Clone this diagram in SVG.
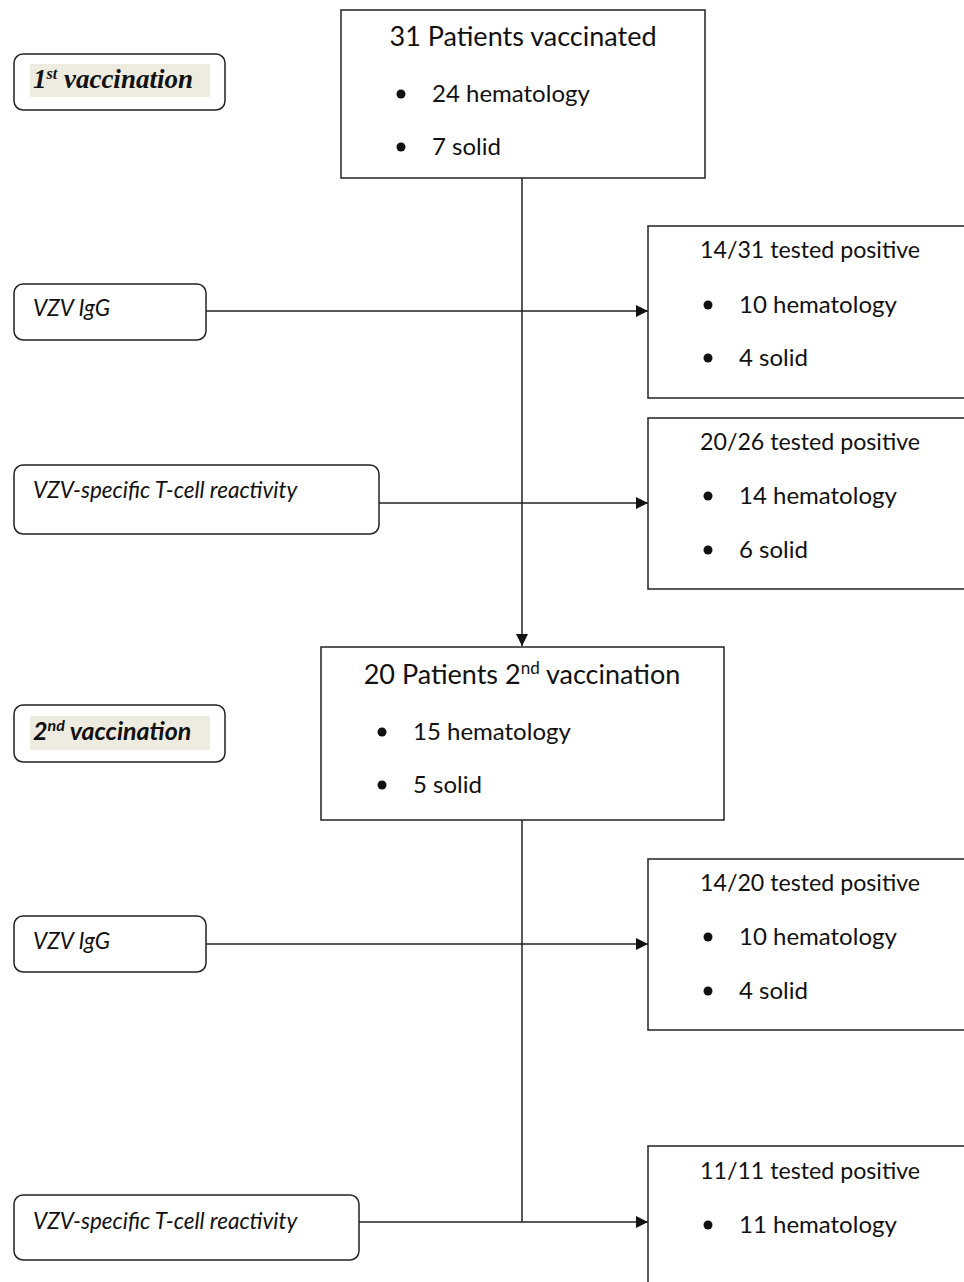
<svg xmlns="http://www.w3.org/2000/svg" width="964" height="1282" viewBox="0 0 964 1282">
<style>
.box{fill:#fff;stroke:#222;stroke-width:1.5}
.rbox{fill:#fff;stroke:#222;stroke-width:1.5}
.hl{fill:#eeece1;stroke:none}
.t{font-family:Lato,"Open Sans",sans-serif;fill:#111}
.title{font-size:27px}
.body{font-size:24px}
.rt{font-size:23.2px}
.it{font-family:Lato,"Open Sans",sans-serif;font-style:italic;font-size:22.5px;fill:#111}
.hd1{font-family:"Liberation Serif",serif;font-style:italic;font-weight:bold;font-size:27px;fill:#111}
.hd2{font-family:Lato,"Open Sans",sans-serif;font-style:italic;font-weight:bold;font-size:25px;fill:#111}
.conn{stroke:#222;stroke-width:1.5;fill:none}
</style>
<defs>
<marker id="arr" viewBox="0 0 10 10" refX="10" refY="5" markerWidth="13" markerHeight="12" markerUnits="userSpaceOnUse" orient="auto">
<path d="M0,0 L10,5 L0,10 z" fill="#111"/>
</marker>
</defs>
<rect width="964" height="1282" fill="#fff"/>
<g id="connectors">
<line class="conn" x1="522" y1="178" x2="522" y2="646" marker-end="url(#arr)"/>
<line class="conn" x1="206" y1="311" x2="648" y2="311" marker-end="url(#arr)"/>
<line class="conn" x1="379" y1="503" x2="648" y2="503" marker-end="url(#arr)"/>
<line class="conn" x1="522" y1="820" x2="522" y2="1222"/>
<line class="conn" x1="206" y1="944" x2="648" y2="944" marker-end="url(#arr)"/>
<line class="conn" x1="359" y1="1222" x2="648" y2="1222" marker-end="url(#arr)"/>
</g>
<g id="first-vacc-label">
<rect class="rbox" x="14" y="54" width="211" height="56" rx="9"/>
<rect class="hl" x="30" y="64" width="180" height="33"/>
<text class="hd1" x="33" y="88">1<tspan font-size="16" dy="-9">st</tspan><tspan dy="9"> vaccination</tspan></text>
</g>
<g id="patients31">
<rect class="box" x="341" y="10" width="364" height="168"/>
<text class="t title" x="523" y="46" text-anchor="middle">31 Patients vaccinated</text>
<circle cx="401" cy="94" r="4.5" fill="#111"/>
<text class="t body" x="432" y="102">24 hematology</text>
<circle cx="401" cy="147" r="4.5" fill="#111"/>
<text class="t body" x="432" y="155">7 solid</text>
</g>
<g id="igg1">
<rect class="rbox" x="14" y="284" width="192" height="56" rx="9"/>
<text class="it" x="33" y="316">VZV IgG</text>
</g>
<g id="res1">
<rect class="box" x="648" y="226" width="330" height="172"/>
<text class="t rt" x="700" y="258">14/31 tested positive</text>
<circle cx="708" cy="305" r="4.5" fill="#111"/>
<text class="t body" x="739" y="313">10 hematology</text>
<circle cx="708" cy="358" r="4.5" fill="#111"/>
<text class="t body" x="739" y="366">4 solid</text>
</g>
<g id="tcell1">
<rect class="rbox" x="14" y="465" width="365" height="69" rx="9"/>
<text class="it" x="33" y="498">VZV-specific T-cell reactivity</text>
</g>
<g id="res2">
<rect class="box" x="648" y="418" width="330" height="171"/>
<text class="t rt" x="700" y="450">20/26 tested positive</text>
<circle cx="708" cy="496" r="4.5" fill="#111"/>
<text class="t body" x="739" y="504">14 hematology</text>
<circle cx="708" cy="550" r="4.5" fill="#111"/>
<text class="t body" x="739" y="558">6 solid</text>
</g>
<g id="patients20">
<rect class="box" x="321" y="647" width="403" height="173"/>
<text class="t title" x="522" y="684" text-anchor="middle">20 Patients 2<tspan font-size="17" dy="-10">nd</tspan><tspan dy="10"> vaccination</tspan></text>
<circle cx="382" cy="732" r="4.5" fill="#111"/>
<text class="t body" x="413" y="740">15 hematology</text>
<circle cx="382" cy="785" r="4.5" fill="#111"/>
<text class="t body" x="413" y="793">5 solid</text>
</g>
<g id="second-vacc-label">
<rect class="rbox" x="14" y="705" width="211" height="57" rx="9"/>
<rect class="hl" x="30" y="716" width="180" height="34"/>
<text class="hd2" x="33" y="740">2<tspan font-size="16" dy="-9">nd</tspan><tspan dy="9"> vaccination</tspan></text>
</g>
<g id="igg2">
<rect class="rbox" x="14" y="916" width="192" height="56" rx="9"/>
<text class="it" x="33" y="949">VZV IgG</text>
</g>
<g id="res3">
<rect class="box" x="648" y="859" width="330" height="171"/>
<text class="t rt" x="700" y="891">14/20 tested positive</text>
<circle cx="708" cy="937" r="4.5" fill="#111"/>
<text class="t body" x="739" y="945">10 hematology</text>
<circle cx="708" cy="991" r="4.5" fill="#111"/>
<text class="t body" x="739" y="999">4 solid</text>
</g>
<g id="tcell2">
<rect class="rbox" x="14" y="1195" width="345" height="65" rx="9"/>
<text class="it" x="33" y="1229">VZV-specific T-cell reactivity</text>
</g>
<g id="res4">
<rect class="box" x="648" y="1146" width="330" height="150"/>
<text class="t rt" x="700" y="1179">11/11 tested positive</text>
<circle cx="708" cy="1225" r="4.5" fill="#111"/>
<text class="t body" x="739" y="1233">11 hematology</text>
</g>
</svg>
